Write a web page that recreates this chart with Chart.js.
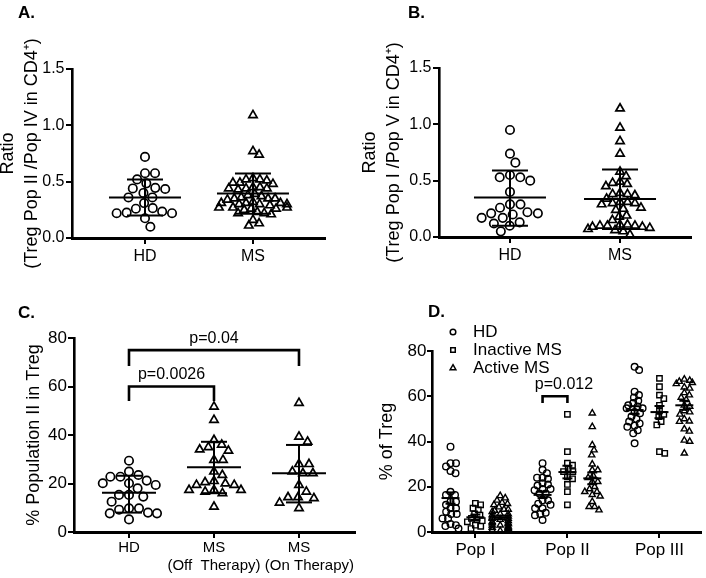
<!DOCTYPE html>
<html>
<head>
<meta charset="utf-8">
<script src="https://cdn.jsdelivr.net/npm/chart.js@4.4.1/dist/chart.umd.min.js"></script>
<style>
  body { margin: 0; background: #fff; width: 706px; height: 578px; overflow: hidden; position: relative; }
  canvas { position: absolute; }
</style>
</head>
<body>
<canvas id="panelA" width="353" height="290" style="left:0;top:0"></canvas>
<canvas id="panelB" width="353" height="290" style="left:353px;top:0"></canvas>
<canvas id="panelC" width="372" height="288" style="left:0;top:290px"></canvas>
<canvas id="panelD" width="353" height="288" style="left:353px;top:290px"></canvas>
<script>
const FONT = "'Liberation Sans', Arial, Helvetica, sans-serif";

// ---- A: Treg Pop II / Pop IV ratio
const aGroups = ['HD', 'MS'];
const aHD = [0.72, 0.575, 0.575, 0.52, 0.485, 0.44, 0.445, 0.435, 0.40, 0.36, 0.36, 0.31,
  0.265, 0.26, 0.22, 0.235, 0.22, 0.225, 0.175, 0.10];
const aMS = [1.09, 0.77, 0.74, 0.53, 0.52, 0.52, 0.51, 0.49, 0.48, 0.49, 0.45, 0.44, 0.44, 0.43,
  0.45, 0.44, 0.39, 0.38, 0.37, 0.35, 0.35, 0.34, 0.36, 0.35, 0.31, 0.30, 0.31, 0.32, 0.30, 0.31,
  0.29, 0.30, 0.27, 0.26, 0.27, 0.26, 0.25, 0.27, 0.22, 0.22, 0.21, 0.23, 0.16, 0.13, 0.11];
const aMean = [0.36, 0.395];
const aLow = [0.20, 0.215];
const aHigh = [0.52, 0.573];

// ---- B: Treg Pop I / Pop V ratio
const bGroups = ['HD', 'MS'];
const bHD = [0.95, 0.74, 0.66, 0.53, 0.53, 0.55, 0.50, 0.40, 0.29, 0.26, 0.29, 0.17, 0.17,
  0.21, 0.20, 0.21, 0.22, 0.13, 0.10, 0.12, 0.05];
const bMS = [1.14, 0.97, 0.85, 0.74, 0.58, 0.54, 0.49, 0.48, 0.47, 0.45, 0.39, 0.38, 0.38, 0.37,
  0.34, 0.31, 0.30, 0.30, 0.29, 0.31, 0.26, 0.25, 0.24, 0.19, 0.18, 0.15, 0.11, 0.10, 0.09, 0.10,
  0.08, 0.09, 0.10, 0.11, 0.07, 0.06, 0.05, 0.02];
const bMean = [0.35, 0.337];
const bLow = [0.10, 0.07];
const bHigh = [0.59, 0.60];

// ---- C: % Population II in Treg
const cGroups = [['HD'], ['MS', '(Off  Therapy)'], ['MS', '     (On Therapy)']];
const cHD = [29.4, 24.9, 23.5, 22.8, 22.8, 21.2, 20.1, 20.1, 19.4, 18, 14.6, 15.3, 15.3, 12.5,
  9.8, 9.8, 9.2, 7.7, 7.7, 8, 5.2];
const cOff = [51.7, 46.2, 37.9, 36, 35, 34, 33.5, 29.7, 29.7, 24.9, 23.5, 21, 20.5, 20, 19.4,
  19.4, 17.3, 17.3, 17.3, 16.6, 16, 10.4];
const cOn = [53.2, 39.3, 37.2, 28, 28, 24.9, 24.2, 24.2, 19.4, 16.6, 14.3, 14.3, 13.9, 12.1, 9.8];
const cMean = [16.2, 26.7, 24.2];
const cLow = [8.0, 16.0, 12.2];
const cHigh = [23.2, 37.2, 35.9];
const cPText = ['p=0.0026', 'p=0.04'];
const cPFrom = [0, 0];
const cPTo = [1, 2];
const cPTop = [60, 75];
const cPFoot = [54, 68.5];

// ---- D: % of Treg by population
const dPops = ['Pop I', 'Pop II', 'Pop III'];
const dSeries = ['HD', 'Inactive MS', 'Active MS'];
const dHD = [
  [37.7, 30.4, 30.4, 29, 27, 26, 17.8, 16.4, 16.4, 13.4, 13.4, 12, 10.5, 10.5, 9, 8, 8, 6, 6, 3.5, 3, 2.6, 1.5],
  [30.4, 27.5, 26, 24, 24, 23.5, 21.5, 21, 20.5, 19, 19, 18.5, 17, 17, 14, 14, 12.5, 12, 10.5, 10.5, 8.5, 8, 7.4, 5.3],
  [73, 71.6, 62, 60.5, 59.5, 58, 57, 56, 55.5, 54.7, 54.7, 53, 52.5, 51, 50, 48.8, 48, 47, 46.5, 45, 43.6, 39.2]
];
const dInactive = [
  [12.7, 12, 10.5, 9.8, 8, 7.5, 6, 5.5, 5, 4.5, 3, 2.5, 1.5],
  [52, 35.5, 30.4, 29.5, 28, 26.7, 26.7, 24.4, 23.5, 21, 17.8, 12],
  [67.9, 64.2, 60.5, 59, 56, 53.5, 52, 51, 48.8, 47.3, 35.5, 34.8]
];
const dActive = [
  [16, 15, 14, 13, 12.5, 12, 11, 10, 10, 9.5, 9, 8, 8, 7.5, 7, 6.5, 6, 6, 5.5, 5, 4.5, 4, 4, 3.5,
    3, 3, 2.5, 2, 2, 1.5, 1, 1, 0.5, 0.5],
  [52.5, 46.5, 38.5, 36.2, 34, 30, 27.4, 27.4, 25, 24, 22.2, 22.2, 20, 19, 17.8, 17.8, 16.5, 15.8,
    13.4, 11.2, 11.2, 9.7],
  [67.5, 67, 66.5, 66, 65.5, 64, 63.5, 61.5, 60.5, 59.5, 58.5, 56, 55.5, 53.5, 53, 52, 50, 49,
    48.8, 45.5, 44.5, 40.5, 40, 34.8]
];
const dMean = [[15, 16.4, 53.9], [6.5, 26.5, 53], [6.5, 23.7, 56]];
const dErr = [[2.5, 1.4, 1.7], [1.2, 2.8, 2.7], [0.8, 2.6, 2]];
const dPText = 'p=0.012';
const dPTop = 60;
const dPFoot = 57;

const SUB = 0.27;  // spacing of the three series inside a population

function line(ctx, x1, y1, x2, y2) {
  ctx.beginPath(); ctx.moveTo(x1, y1); ctx.lineTo(x2, y2); ctx.stroke();
}

function drawDecor(chart, cfg) {
  const { ctx } = chart;
  const x = chart.scales.x, y = chart.scales.y;
  ctx.save();
  ctx.strokeStyle = '#000';
  ctx.fillStyle = '#000';
  ctx.lineWidth = cfg.barW;
  cfg.stats.forEach(st => {
    const px = x.getPixelForValue(st.x);
    const pm = y.getPixelForValue(st.mean);
    const pl = y.getPixelForValue(st.lo);
    const ph = y.getPixelForValue(st.hi);
    line(ctx, px - cfg.meanHalf, pm, px + cfg.meanHalf, pm);
    line(ctx, px - cfg.capHalf, pl, px + cfg.capHalf, pl);
    line(ctx, px - cfg.capHalf, ph, px + cfg.capHalf, ph);
    line(ctx, px, pl, px, ph);
  });
  ctx.lineWidth = 2.6;
  ctx.font = '16px ' + FONT;
  ctx.textAlign = 'center';
  ctx.textBaseline = 'middle';
  (cfg.brackets || []).forEach(b => {
    const x1 = x.getPixelForValue(b.from), x2 = x.getPixelForValue(b.to);
    const yt = y.getPixelForValue(b.top), yf = y.getPixelForValue(b.foot);
    ctx.beginPath();
    ctx.moveTo(x1, yf); ctx.lineTo(x1, yt); ctx.lineTo(x2, yt); ctx.lineTo(x2, yf);
    ctx.stroke();
    ctx.fillText(b.text, (x1 + x2) / 2 + (b.dx || 0), yt - 12);
  });
  if (cfg.legend) {
    ctx.textAlign = 'left';
    ctx.font = '17px ' + FONT;
    cfg.legend.forEach(it => {
      ctx.lineWidth = 1.5;
      ctx.fillStyle = 'rgba(255,255,255,0)';
      Chart.helpers.drawPoint(ctx, { pointStyle: it.style, radius: it.r, borderWidth: 1.5 }, it.x, it.y);
      ctx.fillStyle = '#000';
      ctx.fillText(it.text, it.x + 20, it.y);
    });
  }
  ctx.font = 'bold 17px ' + FONT;
  ctx.textAlign = 'left';
  ctx.textBaseline = 'alphabetic';
  ctx.fillText(cfg.letter, cfg.letterX, cfg.letterY);
  ctx.restore();
}

function swarm(chart, cfg) {
  const xs = chart.scales.x, ys = chart.scales.y;
  const unit = xs.getPixelForValue(1) - xs.getPixelForValue(0);
  chart.data.datasets.forEach((ds, i) => {
    const set = cfg.sets[i];
    const g = set.gap;
    const placed = [];
    const order = set.vals.map((v, k) => k).sort((a, b) => set.vals[b] - set.vals[a]);
    ds.data = order.map(k => {
      const py = ys.getPixelForValue(set.vals[k]);
      const near = placed.filter(p => Math.abs(p.y - py) < g);
      const cands = [0];
      near.forEach(p => {
        const w = Math.sqrt(g * g - (p.y - py) ** 2) + 0.01;
        cands.push(p.x + w, p.x - w);
      });
      cands.sort((a, b) => Math.abs(a) - Math.abs(b) || b - a);
      let dx = cands.find(c => near.every(p => (p.x - c) ** 2 + (p.y - py) ** 2 >= g * g - 0.5));
      if (dx === undefined) dx = 0;
      if (set.maxDx) dx = Math.max(-set.maxDx, Math.min(set.maxDx, dx));
      placed.push({ x: dx, y: py });
      return { x: set.x + dx / unit, y: set.vals[k] };
    });
  });
  chart.update('none');
}

function panel(id, cfg) {
  const chart = new Chart(document.getElementById(id), {
    type: 'scatter',
    data: {
      datasets: cfg.sets.map(s => ({
        data: s.vals.map(v => ({ x: s.x, y: v })),
        pointStyle: s.style,
        pointRadius: s.r,
        pointHoverRadius: s.r,
        pointBorderWidth: s.bw,
        pointBorderColor: '#000',
        pointBackgroundColor: 'rgba(255,255,255,0)'
      }))
    },
    options: {
      responsive: false,
      animation: false,
      events: [],
      layout: { padding: cfg.pad },
      plugins: { legend: { display: false }, tooltip: { enabled: false } },
      scales: {
        x: {
          type: 'linear',
          min: cfg.xMin,
          max: cfg.xMax,
          afterBuildTicks: s => { s.ticks = cfg.xTicks.map(v => ({ value: v })); },
          afterFit: s => { s.height = cfg.xH; },
          ticks: {
            callback: (v, i) => cfg.xLabels[i],
            font: { family: FONT, size: cfg.xFont },
            color: '#000',
            padding: cfg.xPad,
            maxRotation: 0,
            autoSkip: false
          },
          grid: { drawOnChartArea: false, drawTicks: true, tickLength: 6, lineWidth: 2, color: '#000' },
          border: { width: 3, color: '#000' }
        },
        y: {
          min: 0,
          max: cfg.yMax,
          afterFit: s => { s.width = cfg.yW; },
          ticks: {
            stepSize: cfg.yStep,
            callback: cfg.yFmt,
            font: { family: FONT, size: cfg.yFont },
            color: '#000',
            padding: cfg.yPad
          },
          grid: { drawOnChartArea: false, drawTicks: true, tickLength: cfg.yTick, lineWidth: 2, color: '#000' },
          border: { width: 2.6, color: '#000' },
          title: {
            display: true,
            text: cfg.yTitle,
            color: '#000',
            font: { family: FONT, size: 18, lineHeight: cfg.titleLH },
            padding: { top: cfg.titlePad, bottom: 0 }
          }
        }
      }
    },
    plugins: [{ id: 'decor', afterDatasetsDraw: c => drawDecor(c, cfg) }]
  });
  swarm(chart, cfg);
  return chart;
}

const oneDec = v => v.toFixed(1);
const plain = v => String(v);

// A
panel('panelA', {
  sets: [
    { vals: aHD, x: 0, style: 'circle', r: 4.2, bw: 1.7, gap: 10, maxDx: 33 },
    { vals: aMS, x: 1, style: 'triangle', r: 4.8, bw: 1.7, gap: 7, maxDx: 34 }
  ],
  stats: aMean.map((m, i) => ({ x: i, mean: m, lo: aLow[i], hi: aHigh[i] })),
  pad: { top: 69, right: 28, left: 0, bottom: 0 },
  xMin: -0.676, xMax: 1.667, xTicks: [0, 1], xLabels: aGroups, xH: 52, xFont: 16, xPad: 3,
  yMax: 1.5, yStep: 0.5, yFmt: oneDec, yW: 72, yFont: 16, yPad: 1.5, yTick: 6,
  yTitle: ['Ratio', '(Treg Pop II /Pop IV in CD4\u207A)'], titleLH: 24 / 18, titlePad: -3.5,
  barW: 2, meanHalf: 36, capHalf: 18,
  letter: 'A.', letterX: 18, letterY: 18
});

// B
panel('panelB', {
  sets: [
    { vals: bHD, x: 0, style: 'circle', r: 4.2, bw: 1.7, gap: 10.5, maxDx: 33 },
    { vals: bMS, x: 1, style: 'triangle', r: 4.8, bw: 1.7, gap: 7.5, maxDx: 32 }
  ],
  stats: bMean.map((m, i) => ({ x: i, mean: m, lo: bLow[i], hi: bHigh[i] })),
  pad: { top: 68, right: 15, left: 0, bottom: 0 },
  xMin: -0.645, xMax: 1.645, xTicks: [0, 1], xLabels: bGroups, xH: 53, xFont: 16, xPad: 3,
  yMax: 1.5, yStep: 0.5, yFmt: oneDec, yW: 86, yFont: 16, yPad: 1.5, yTick: 6,
  yTitle: ['Ratio', '(Treg Pop I /Pop V in CD4\u207A)'], titleLH: 24 / 18, titlePad: 4.7,
  barW: 2, meanHalf: 36, capHalf: 18,
  letter: 'B.', letterX: 55, letterY: 18
});

// C
panel('panelC', {
  sets: [
    { vals: cHD, x: 0, style: 'circle', r: 4.2, bw: 1.7, gap: 10, maxDx: 28 },
    { vals: cOff, x: 1, style: 'triangle', r: 4.8, bw: 1.7, gap: 9, maxDx: 27 },
    { vals: cOn, x: 2, style: 'triangle', r: 4.8, bw: 1.7, gap: 10, maxDx: 27 }
  ],
  stats: cMean.map((m, i) => ({ x: i, mean: m, lo: cLow[i], hi: cHigh[i] })),
  brackets: cPText.map((t, i) => ({ text: t, from: cPFrom[i], to: cPTo[i], top: cPTop[i], foot: cPFoot[i] })),
  pad: { top: 48, right: 17, left: 0, bottom: 0 },
  xMin: -0.647, xMax: 2.659, xTicks: [0, 1, 2], xLabels: cGroups, xH: 46, xFont: 15, xPad: 1,
  yMax: 80, yStep: 20, yFmt: plain, yW: 74, yFont: 17, yPad: 1, yTick: 6,
  yTitle: '% Population II in Treg', titleLH: 1.2, titlePad: 23.2,
  barW: 2, meanHalf: 27, capHalf: 13,
  letter: 'C.', letterX: 18, letterY: 28
});

// D
const dStyles = ['circle', 'rect', 'triangle'];
const dRadii = [3.3, 3.8, 3.6];
const dSets = [];
const dStats = [];
[dHD, dInactive, dActive].forEach((series, s) => {
  series.forEach((vals, g) => {
    dSets.push({ vals: vals, x: g + (s - 1) * SUB, style: dStyles[s], r: dRadii[s], bw: 1.4, gap: 5.5, maxDx: 8 });
    dStats.push({ x: g + (s - 1) * SUB, mean: dMean[s][g], lo: dMean[s][g] - dErr[s][g], hi: dMean[s][g] + dErr[s][g] });
  });
});
panel('panelD', {
  sets: dSets,
  stats: dStats,
  brackets: [{ text: dPText, from: 1 - SUB, to: 1, top: dPTop, foot: dPFoot, dx: 9 }],
  legend: dSeries.map((t, s) => ({ text: t, style: dStyles[s], r: [2.8, 3.2, 3.3][s], x: 100, y: 42 + s * 18 })),
  pad: { top: 61, right: 1, left: 0, bottom: 0 },
  xMin: -0.471, xMax: 2.449, xTicks: [0, 1, 2], xLabels: dPops, xH: 46, xFont: 17, xPad: 2,
  yMax: 80, yStep: 20, yFmt: plain, yW: 79, yFont: 17, yPad: 0.5, yTick: 5,
  yTitle: '% of Treg', titleLH: 1.2, titlePad: 23.2,
  barW: 2, meanHalf: 9, capHalf: 5,
  letter: 'D.', letterX: 75, letterY: 27
});
</script>
</body>
</html>
